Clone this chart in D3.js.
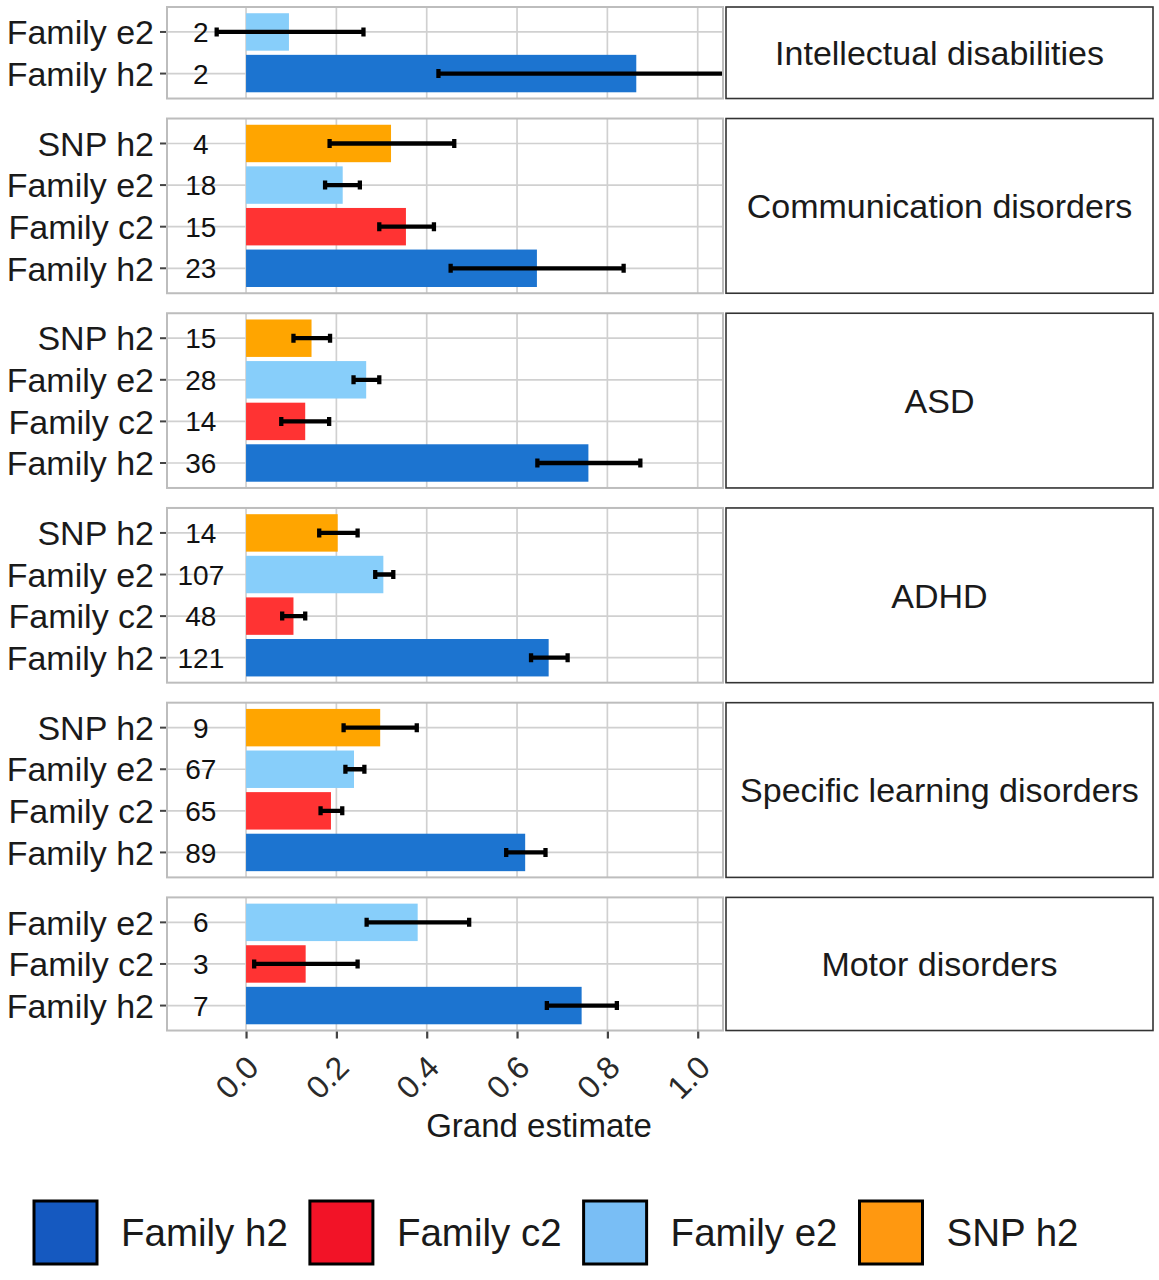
<!DOCTYPE html>
<html><head><meta charset="utf-8">
<script src="https://cdn.jsdelivr.net/npm/d3@7"></script>
<style>body{margin:0;background:#fff}svg{display:block;font-family:"Liberation Sans",Arial,sans-serif}</style>
</head><body>
<svg id="chart" width="1159" height="1280"></svg>
<script>
// ---- data ----
const disorders = ["Intellectual disabilities","Communication disorders","ASD","ADHD","Specific learning disorders","Motor disorders"];
const components = ["Family h2","Family c2","Family e2","SNP h2"];
const colorsBar = ["#1C74D0","#FF3333","#87CEFA","#FFA500"];
const colorsKey = ["#1559C0","#F21327","#79BEF5","#FF9810"];
// per-disorder categories (top to bottom)
const idCats = ["Family e2","Family h2"];
const idEst  = [0.095, 0.864];
const idLow  = [-0.065, 0.426];
const idHigh = [0.260, 1.300];
const idN    = [2, 2];

const comCats = ["SNP h2","Family e2","Family c2","Family h2"];
const comEst  = [0.321, 0.214, 0.354, 0.644];
const comLow  = [0.185, 0.175, 0.295, 0.453];
const comHigh = [0.461, 0.252, 0.416, 0.836];
const comN    = [4, 18, 15, 23];

const asdCats = ["SNP h2","Family e2","Family c2","Family h2"];
const asdEst  = [0.145, 0.266, 0.131, 0.758];
const asdLow  = [0.105, 0.238, 0.078, 0.645];
const asdHigh = [0.186, 0.295, 0.184, 0.873];
const asdN    = [15, 28, 14, 36];

const adhdCats = ["SNP h2","Family e2","Family c2","Family h2"];
const adhdEst  = [0.203, 0.304, 0.105, 0.670];
const adhdLow  = [0.162, 0.286, 0.080, 0.631];
const adhdHigh = [0.247, 0.326, 0.131, 0.712];
const adhdN    = [14, 107, 48, 121];

const sldCats = ["SNP h2","Family e2","Family c2","Family h2"];
const sldEst  = [0.297, 0.239, 0.188, 0.618];
const sldLow  = [0.216, 0.220, 0.165, 0.576];
const sldHigh = [0.378, 0.262, 0.213, 0.663];
const sldN    = [9, 67, 65, 89];

const motCats = ["Family e2","Family c2","Family h2"];
const motEst  = [0.380, 0.132, 0.743];
const motLow  = [0.267, 0.018, 0.666];
const motHigh = [0.494, 0.247, 0.821];
const motN    = [6, 3, 7];

const xTicks = [0, 0.2, 0.4, 0.6, 0.8, 1.0];
const xTitle = "Grand estimate";

const panelsData = [
  [idCats, idEst, idLow, idHigh, idN],
  [comCats, comEst, comLow, comHigh, comN],
  [asdCats, asdEst, asdLow, asdHigh, asdN],
  [adhdCats, adhdEst, adhdLow, adhdHigh, adhdN],
  [sldCats, sldEst, sldLow, sldHigh, sldN],
  [motCats, motEst, motLow, motHigh, motN]
];

(function () {
// ---- layout ----
const svg = d3.select("#chart");
const panelLeft = 167, panelRight = 723, stripLeft = 726, stripRight = 1153;
const unit = 41.6, gap = 20, top0 = 7;
const x = d3.scaleLinear().domain([-0.175, 1.056]).range([panelLeft, panelRight]);
const colorBar = d3.scaleOrdinal().domain(components).range(colorsBar);
const colorKey = d3.scaleOrdinal().domain(components).range(colorsKey);

const defs = svg.append("defs");
let py = top0;
panelsData.forEach((pd, i) => {
  const [cats, est, low, high, ns] = pd;
  const h = (cats.length + 0.2) * unit;
  const y = d3.scaleBand().domain(cats).range([py, py + h]).paddingInner(0.1).paddingOuter(0.15);
  const rows = cats.map((c, j) => ({c, est: est[j], low: low[j], high: high[j], n: ns[j]}));
  const g = svg.append("g");
  const cid = "clip" + i;
  defs.append("clipPath").attr("id", cid).append("rect")
    .attr("x", panelLeft).attr("y", py).attr("width", panelRight - panelLeft).attr("height", h);
  g.append("rect").attr("x", panelLeft).attr("y", py).attr("width", panelRight - panelLeft).attr("height", h).attr("fill", "#fff");
  g.selectAll(".vg").data(xTicks).join("line")
    .attr("x1", d => x(d)).attr("x2", d => x(d)).attr("y1", py).attr("y2", py + h)
    .attr("stroke", "#D0D0D0").attr("stroke-width", 1.7);
  g.selectAll(".hg").data(cats).join("line")
    .attr("x1", panelLeft).attr("x2", panelRight)
    .attr("y1", d => y(d) + y.bandwidth() / 2).attr("y2", d => y(d) + y.bandwidth() / 2)
    .attr("stroke", "#D0D0D0").attr("stroke-width", 1.7);
  const inner = g.append("g").attr("clip-path", `url(#${cid})`);
  inner.selectAll(".bar").data(rows).join("rect")
    .attr("x", x(0)).attr("y", d => y(d.c))
    .attr("width", d => x(d.est) - x(0)).attr("height", y.bandwidth())
    .attr("fill", d => colorBar(d.c));
  inner.selectAll(".cnt").data(rows).join("text")
    .attr("x", x(-0.1)).attr("y", d => y(d.c) + y.bandwidth() / 2)
    .attr("dy", "0.36em").attr("text-anchor", "middle")
    .attr("font-size", 28).attr("fill", "#111").text(d => d.n);
  const cap = 4.5, sw = 4.3;
  inner.selectAll(".eb").data(rows).join("line")
    .attr("x1", d => x(d.low)).attr("x2", d => x(d.high))
    .attr("y1", d => y(d.c) + y.bandwidth() / 2).attr("y2", d => y(d.c) + y.bandwidth() / 2)
    .attr("stroke", "#000").attr("stroke-width", sw);
  inner.selectAll(".ebl").data(rows).join("line")
    .attr("x1", d => x(d.low)).attr("x2", d => x(d.low))
    .attr("y1", d => y(d.c) + y.bandwidth() / 2 - cap).attr("y2", d => y(d.c) + y.bandwidth() / 2 + cap)
    .attr("stroke", "#000").attr("stroke-width", sw);
  inner.selectAll(".ebh").data(rows).join("line")
    .attr("x1", d => x(d.high)).attr("x2", d => x(d.high))
    .attr("y1", d => y(d.c) + y.bandwidth() / 2 - cap).attr("y2", d => y(d.c) + y.bandwidth() / 2 + cap)
    .attr("stroke", "#000").attr("stroke-width", sw);
  g.append("rect").attr("x", panelLeft).attr("y", py).attr("width", panelRight - panelLeft).attr("height", h)
    .attr("fill", "none").attr("stroke", "#BDBDBD").attr("stroke-width", 2);
  const ya = d3.axisLeft(y).tickSize(6).tickPadding(6);
  const yg = svg.append("g").attr("transform", `translate(${panelLeft - 1},0)`).call(ya);
  yg.select(".domain").remove();
  yg.selectAll(".tick line").attr("stroke", "#444").attr("stroke-width", 2);
  yg.selectAll(".tick text").attr("font-size", 34).attr("fill", "#1a1a1a")
    .attr("font-family", "Liberation Sans, Arial, sans-serif").attr("dy", "0.36em");
  svg.append("rect").attr("x", stripLeft).attr("y", py).attr("width", stripRight - stripLeft).attr("height", h)
    .attr("fill", "#fff").attr("stroke", "#333").attr("stroke-width", 1.6);
  svg.append("text").attr("x", (stripLeft + stripRight) / 2).attr("y", py + h / 2)
    .attr("dy", "0.36em").attr("text-anchor", "middle").attr("font-size", 34).attr("fill", "#1a1a1a")
    .text(disorders[i]);
  py += h + gap;
});
const bottom = py - gap;

const xa = d3.axisBottom(x).tickValues(xTicks).tickFormat(d3.format(".1f")).tickSize(7).tickPadding(4);
const xg = svg.append("g").attr("transform", `translate(0,${bottom + 1})`).call(xa);
xg.select(".domain").remove();
xg.selectAll(".tick line").attr("stroke", "#444").attr("stroke-width", 2.2);
xg.selectAll(".tick text").attr("font-size", 32).attr("fill", "#2a2a2a")
  .attr("font-family", "Liberation Sans, Arial, sans-serif")
  .attr("text-anchor", "end").attr("dy", 0).attr("y", 0)
  .attr("transform", "translate(14,38) rotate(-45)");

svg.append("text").attr("x", 539).attr("y", 1137).attr("text-anchor", "middle")
  .attr("font-size", 33).attr("fill", "#1a1a1a").text(xTitle);

const lg = svg.append("g");
let lx = 34;
const keySize = 63, ly = 1201;
components.forEach(c => {
  lg.append("rect").attr("x", lx).attr("y", ly).attr("width", keySize).attr("height", keySize)
    .attr("fill", colorKey(c)).attr("stroke", "#000").attr("stroke-width", 3);
  const t = lg.append("text").attr("x", lx + keySize + 24).attr("y", ly + keySize / 2)
    .attr("dy", "0.36em").attr("font-size", 38.5).attr("fill", "#1a1a1a").text(c);
  lx += keySize + 24 + t.node().getComputedTextLength() + 22;
});
})();
</script>
</body></html>
